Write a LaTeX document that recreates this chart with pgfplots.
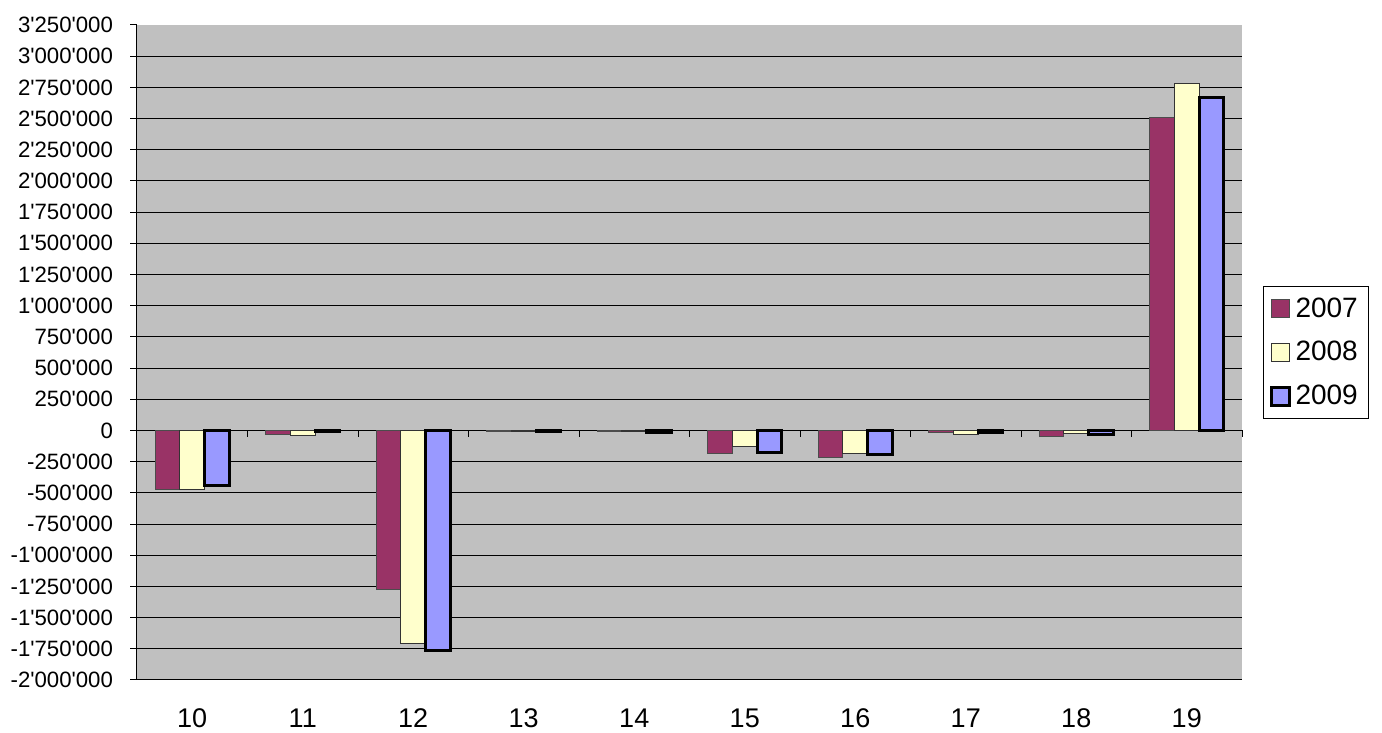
\documentclass[border=0pt]{standalone}
\usepackage{fontspec}
\setmainfont{Liberation Sans}
\usepackage{pgfplots}
\pgfplotsset{compat=1.18}
\definecolor{c07}{HTML}{993366}
\definecolor{c08}{HTML}{FFFFCC}
\definecolor{c09}{HTML}{9999FF}
\definecolor{plotbg}{HTML}{C0C0C0}

\begin{document}
% 1 px of the reference = 0.5pt
\begin{tikzpicture}
\useasboundingbox (0,0) rectangle (691pt,366.5pt);
\begin{axis}[
    at={(68.5pt,26.5pt)}, anchor=south west,
    scale only axis, width=552.5pt, height=327.5pt,
    xmin=9.5, xmax=19.5,
    ymin=-2000000, ymax=3250000,
    clip=false,
    axis background/.style={fill=plotbg},
    axis line style={draw=none},
    ybar=0pt, bar width=0.223,
    xtick={10,...,19}, xtick style={draw=none},
    ytick={-2000000,-1750000,...,3000000},
    extra y ticks={3250000}, extra y tick style={grid=none},
    ytick pos=left,
    ymajorgrids, major grid style={black, line width=0.5pt},
    ytick style={black, line width=0.5pt},
    tick align=outside, major tick length=3.5pt,
    scaled y ticks=false,
    /pgf/number format/assume math mode=true,
    /pgf/number format/fixed,
    /pgf/number format/1000 sep={\textquotesingle},
    yticklabel style={font=\fontsize{11.1}{13}\selectfont, xshift=-5pt},
    xticklabel style={font=\fontsize{13.5}{15}\selectfont, yshift=-7.5pt},
    legend style={at={(1.019,0.5)}, anchor=west, draw=black, line width=0.5pt,
        font=\fontsize{14}{16}\selectfont, row sep=5.5pt, inner sep=3pt,
        nodes={inner sep=2.5pt}},
    legend image code/.code={\draw[#1] (1pt,-4.5pt) rectangle (10pt,4.5pt);},
]
\addplot[fill=c07, draw=black!70, line width=0.5pt] coordinates {
    (10,-470000) (11,-30000) (12,-1275000) (13,-5000) (14,-5000)
    (15,-187000) (16,-213000) (17,-13000) (18,-45000) (19,2510000)};
\addplot[fill=c08, draw=black!80, line width=0.5pt] coordinates {
    (10,-476000) (11,-43000) (12,-1710000) (13,-10000) (14,-12000)
    (15,-128000) (16,-188000) (17,-30000) (18,-25000) (19,2780000)};
\addplot[fill=c09, draw=black, line width=1.5pt] coordinates {
    (10,-440000) (11,-5000) (12,-1765000) (13,-8000) (14,-15000)
    (15,-174000) (16,-195000) (17,-18000) (18,-35000) (19,2670000)};
\legend{2007,2008,2009}
\draw[black, line width=0.5pt] (axis cs:9.5,-2000000) -- (axis cs:9.5,3250000);
\pgfplotsinvokeforeach{9.5,10.5,...,19.5}{
    \draw[black, line width=0.5pt] (axis cs:#1,0) -- ([yshift=-3.5pt]axis cs:#1,0);
}
\end{axis}
\end{tikzpicture}
\end{document}
